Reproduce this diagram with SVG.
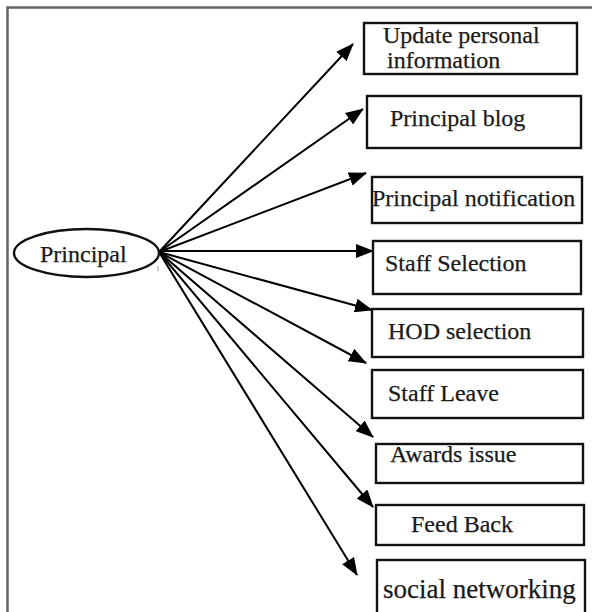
<svg xmlns="http://www.w3.org/2000/svg" width="592" height="612" viewBox="0 0 592 612">
  <style>
    .box { fill: #ffffff; stroke: #111111; stroke-width: 2.4; }
    .lbl { font-family: "Liberation Serif", "Times New Roman", serif; font-size: 24px; fill: #1a1a1a; stroke: #1a1a1a; stroke-width: 0.25; }
    .conn { stroke: #000000; stroke-width: 2; fill: none; marker-end: url(#head); }
  </style>
  <defs>
    <marker id="head" markerUnits="userSpaceOnUse" markerWidth="18" markerHeight="14" refX="17" refY="7" orient="auto">
      <path d="M0,0 L18,7 L0,14 z" fill="#000000"/>
    </marker>
  </defs>
  <rect x="0" y="0" width="592" height="612" fill="#ffffff"/>
  <!-- page frame -->
  <path d="M7.5,612 V7.5 H592" fill="none" stroke="#666666" stroke-width="2.5"/>

  <g id="connectors">
    <line class="conn" x1="159" y1="252" x2="353" y2="44"/>
    <line class="conn" x1="159" y1="252" x2="363" y2="109"/>
    <line class="conn" x1="159" y1="252" x2="366" y2="173"/>
    <line class="conn" x1="159" y1="251" x2="373" y2="251"/>
    <line class="conn" x1="159" y1="252" x2="372" y2="310"/>
    <line class="conn" x1="159" y1="252" x2="366" y2="363"/>
    <line class="conn" x1="159" y1="252" x2="373" y2="437"/>
    <line class="conn" x1="159" y1="252" x2="373" y2="507"/>
    <line class="conn" x1="159" y1="252" x2="357" y2="575"/>
  </g>

  <g id="principal">
    <ellipse cx="86.5" cy="253" rx="72.5" ry="24" fill="#ffffff" stroke="#111111" stroke-width="2.4"/>
    <text class="lbl" x="40" y="262">Principal</text>
    <line x1="158" y1="266" x2="158" y2="271" stroke="#999999" stroke-width="1"/>
  </g>

  <g id="update-personal-information">
    <rect class="box" x="364" y="23" width="213" height="51"/>
    <text class="lbl" x="383" y="43">Update personal</text>
    <text class="lbl" x="387" y="68">information</text>
  </g>

  <g id="principal-blog">
    <rect class="box" x="367" y="96" width="214" height="52"/>
    <text class="lbl" x="390" y="126">Principal blog</text>
  </g>

  <g id="principal-notification">
    <rect class="box" x="372" y="177" width="210" height="46"/>
    <text class="lbl" x="372" y="206">Principal notification</text>
  </g>

  <g id="staff-selection">
    <rect class="box" x="373" y="241" width="208" height="53"/>
    <text class="lbl" x="385" y="271">Staff Selection</text>
  </g>

  <g id="hod-selection">
    <rect class="box" x="372" y="309" width="211" height="48"/>
    <text class="lbl" x="388" y="339">HOD selection</text>
  </g>

  <g id="staff-leave">
    <rect class="box" x="372" y="370" width="211" height="48"/>
    <text class="lbl" x="388" y="401">Staff Leave</text>
  </g>

  <g id="awards-issue">
    <rect class="box" x="376" y="444" width="207" height="39"/>
    <text class="lbl" x="390" y="462">Awards issue</text>
  </g>

  <g id="feed-back">
    <rect class="box" x="376" y="505" width="208" height="40"/>
    <text class="lbl" x="411" y="532">Feed Back</text>
  </g>

  <g id="social-networking">
    <rect class="box" x="377" y="560" width="208" height="60"/>
    <text class="lbl" x="383" y="598" style="font-size:27px">social networking</text>
  </g>
</svg>
